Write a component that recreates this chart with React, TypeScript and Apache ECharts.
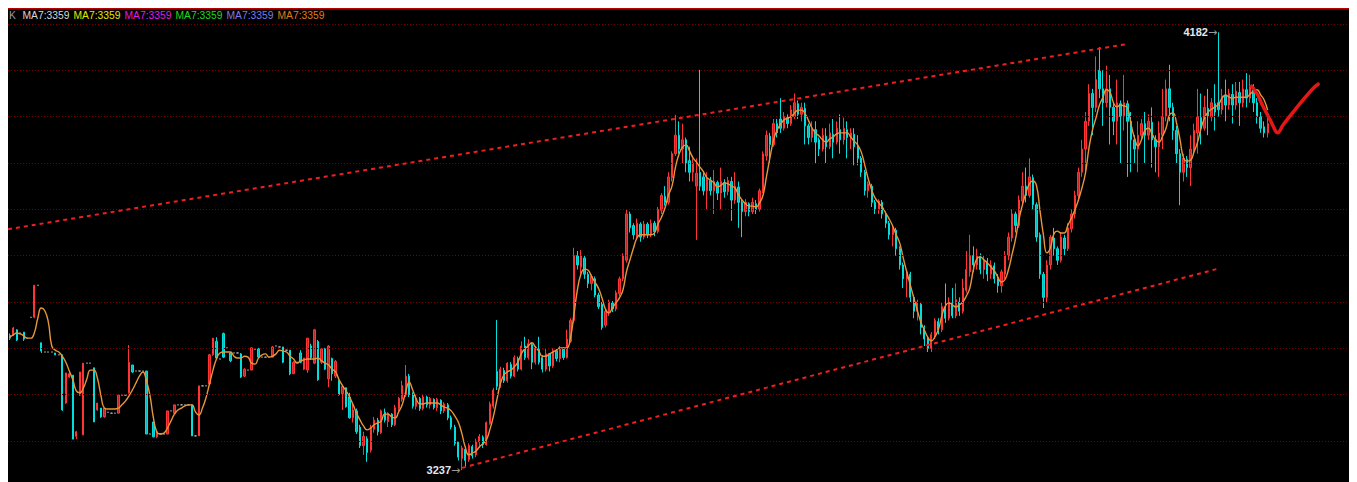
import React, { useEffect, useRef } from "react";
import * as echarts from "echarts";

// OHLC candles: [open, close, low, high]
const candles: number[][] = [
  [3528,3522,3518,3532],[3529,3544,3527,3546],[3540,3518,3516,3541],[3533,3533,3533,3533],[3535,3520,3516,3535],
  [3522,3522,3522,3522],[3567,3567,3567,3567],[3567,3636,3565,3637],[3636,3636,3636,3636],[3512,3494,3490,3512],
  [3492,3492,3492,3492],[3492,3492,3492,3492],[3492,3492,3492,3492],[3490,3486,3485,3490],[3486,3486,3486,3486],
  [3486,3367,3365,3486],[3382,3447,3380,3447],[3438,3445,3436,3447],[3442,3304,3304,3442],[3310,3320,3304,3322],
  [3399,3449,3397,3449],[3313,3468,3313,3468],[3468,3468,3468,3468],[3468,3468,3468,3468],[3458,3341,3341,3458],
  [3367,3382,3365,3382],[3371,3352,3350,3371],[3352,3371,3350,3371],[3362,3362,3362,3362],[3360,3360,3360,3360],
  [3360,3360,3360,3360],[3360,3399,3360,3399],[3399,3399,3399,3399],[3399,3399,3399,3399],[3404,3470,3402,3507],
  [3464,3449,3447,3464],[3451,3451,3451,3451],[3451,3451,3451,3451],[3451,3451,3451,3451],[3451,3315,3315,3451],
  [3315,3315,3315,3315],[3341,3309,3308,3341],[3309,3320,3306,3322],[3315,3315,3315,3315],[3315,3315,3315,3315],
  [3315,3365,3315,3365],[3365,3365,3365,3365],[3360,3378,3360,3378],[3378,3378,3378,3378],[3378,3378,3378,3378],
  [3378,3378,3378,3378],[3378,3378,3378,3378],[3378,3311,3311,3378],[3311,3311,3311,3311],[3311,3419,3311,3419],
  [3419,3419,3419,3419],[3419,3419,3419,3419],[3423,3486,3421,3488],[3486,3522,3484,3522],[3515,3479,3477,3524],
  [3477,3477,3477,3477],[3532,3481,3479,3534],[3501,3501,3501,3501],[3490,3473,3470,3492],[3490,3490,3490,3490],
  [3490,3490,3490,3490],[3488,3438,3436,3490],[3440,3455,3438,3457],[3453,3453,3453,3453],[3453,3501,3453,3503],
  [3498,3498,3498,3498],[3499,3481,3477,3501],[3481,3481,3481,3481],[3481,3481,3481,3481],[3481,3481,3481,3481],
  [3481,3503,3481,3505],[3505,3505,3505,3505],[3503,3503,3503,3503],[3503,3470,3468,3503],[3496,3496,3496,3496],
  [3496,3445,3442,3496],[3445,3470,3445,3472],[3470,3470,3470,3470],[3490,3470,3468,3496],[3455,3479,3453,3479],
  [3453,3522,3447,3522],[3505,3480,3475,3510],[3468,3540,3466,3542],[3515,3432,3430,3518],[3470,3499,3466,3499],
  [3499,3455,3453,3501],[3434,3505,3416,3507],[3478,3445,3430,3480],[3440,3472,3436,3475],[3430,3400,3398,3432],
  [3402,3418,3367,3421],[3415,3374,3372,3415],[3395,3350,3348,3404],[3350,3367,3340,3380],[3365,3320,3315,3370],
  [3330,3290,3285,3335],[3290,3310,3270,3320],[3305,3275,3255,3310],[3280,3330,3275,3335],[3325,3345,3318,3352],
  [3345,3320,3312,3350],[3318,3365,3315,3368],[3362,3345,3340,3370],[3342,3360,3330,3362],[3358,3335,3330,3360],
  [3335,3372,3332,3378],[3370,3392,3365,3395],[3390,3420,3385,3430],[3400,3440,3395,3464],[3440,3400,3395,3445],
  [3400,3375,3370,3405],[3375,3392,3368,3400],[3392,3370,3365,3395],[3370,3395,3366,3400],[3395,3378,3372,3398],
  [3378,3392,3370,3395],[3390,3372,3368,3392],[3372,3390,3365,3393],[3388,3365,3358,3390],[3365,3380,3360,3384],
  [3378,3350,3345,3382],[3350,3330,3325,3355],[3330,3295,3290,3335],[3298,3265,3258,3300],[3262,3285,3237,3290],
  [3282,3258,3245,3288],[3260,3290,3255,3295],[3288,3268,3262,3292],[3270,3300,3265,3305],[3298,3310,3285,3315],
  [3308,3292,3285,3312],[3292,3340,3290,3342],[3338,3380,3335,3385],[3375,3410,3370,3415],[3450,3418,3410,3561],
  [3420,3455,3415,3460],[3452,3430,3425,3458],[3430,3468,3426,3470],[3465,3440,3435,3470],[3440,3480,3438,3485],
  [3478,3455,3450,3482],[3455,3505,3452,3515],[3505,3480,3475,3525],[3480,3510,3476,3520],[3508,3470,3455,3512],
  [3470,3500,3465,3505],[3498,3470,3465,3525],[3480,3455,3448,3485],[3455,3488,3450,3500],[3488,3462,3450,3490],
  [3462,3495,3458,3500],[3495,3478,3472,3498],[3478,3500,3470,3505],[3498,3480,3475,3502],[3480,3520,3478,3540],
  [3515,3560,3512,3565],[3560,3700,3555,3717],[3700,3680,3670,3710],[3675,3700,3660,3712],[3695,3660,3650,3700],
  [3660,3640,3630,3665],[3640,3655,3625,3660],[3650,3615,3610,3655],[3615,3590,3585,3620],[3595,3545,3540,3600],
  [3550,3580,3545,3585],[3578,3600,3570,3605],[3598,3585,3578,3602],[3585,3620,3580,3625],[3618,3650,3612,3655],
  [3650,3700,3645,3705],[3690,3790,3685,3799],[3790,3760,3750,3795],[3765,3745,3735,3770],[3740,3770,3735,3780],
  [3768,3740,3730,3772],[3740,3768,3735,3775],[3768,3745,3738,3772],[3745,3770,3740,3778],[3770,3752,3742,3775],
  [3752,3800,3748,3805],[3798,3830,3790,3835],[3828,3815,3808,3850],[3815,3870,3810,3880],[3868,3920,3860,3925],
  [3920,3960,3915,4004],[3960,3930,3920,3990],[3930,3950,3900,3985],[3950,3900,3880,3955],[3905,3880,3860,3935],
  [3880,3900,3860,3910],[3850,3878,3734,3910],[3880,3850,3840,4101],[3870,3840,3830,3880],[3840,3865,3800,3880],
  [3862,3840,3830,3870],[3840,3860,3790,3885],[3858,3835,3820,3862],[3835,3860,3800,3890],[3858,3838,3825,3865],
  [3838,3862,3830,3870],[3860,3820,3775,3870],[3820,3850,3812,3880],[3848,3815,3760,3860],[3815,3795,3740,3820],
  [3795,3815,3785,3822],[3812,3795,3785,3815],[3795,3815,3790,3825],[3812,3800,3790,3820],[3800,3840,3795,3845],
  [3840,3920,3835,3925],[3915,3960,3905,3970],[3958,3940,3900,3965],[3940,3985,3935,3995],[3985,3965,3955,3995],
  [3995,3975,3965,4040],[3975,4000,3970,4010],[3998,3985,3975,4005],[3985,4015,3980,4025],[4000,4030,3995,4050],
  [4028,4005,3995,4035],[4005,4020,3990,4030],[4018,3980,3940,4030],[3980,3955,3940,3985],[3955,3975,3945,3990],
  [3972,3945,3900,3990],[3950,3930,3915,3955],[3930,3960,3925,3975],[3958,3935,3900,3975],[3935,3965,3930,3985],
  [3962,3945,3910,3995],[3945,3975,3940,3990],[3972,3950,3920,4005],[3950,3975,3940,3998],[3972,3955,3910,3990],
  [3955,3965,3930,3975],[3962,3935,3895,3975],[3935,3910,3895,3960],[3910,3880,3870,3915],[3880,3840,3830,3885],
  [3840,3855,3825,3860],[3850,3815,3805,3855],[3815,3800,3790,3820],[3800,3818,3790,3822],[3815,3790,3780,3820],
  [3790,3770,3760,3795],[3770,3745,3735,3775],[3745,3760,3720,3765],[3755,3715,3700,3760],[3715,3680,3670,3720],
  [3680,3650,3630,3685],[3650,3665,3610,3670],[3660,3610,3600,3665],[3610,3580,3565,3615],[3580,3600,3560,3605],
  [3595,3545,3530,3600],[3545,3520,3505,3550],[3520,3500,3492,3525],[3500,3530,3492,3535],[3530,3560,3520,3565],
  [3558,3540,3530,3565],[3540,3590,3535,3600],[3585,3565,3555,3640],[3565,3600,3560,3610],[3598,3570,3565,3630],
  [3570,3605,3565,3640],[3600,3580,3570,3610],[3580,3630,3575,3650],[3625,3670,3620,3710],[3665,3700,3655,3745],
  [3700,3680,3665,3720],[3680,3700,3670,3715],[3698,3670,3660,3705],[3670,3690,3650,3700],[3688,3660,3645,3695],
  [3660,3680,3650,3690],[3678,3650,3640,3685],[3650,3635,3620,3660],[3635,3665,3620,3670],[3660,3700,3650,3710],
  [3700,3740,3690,3750],[3738,3790,3730,3800],[3790,3765,3750,3795],[3765,3820,3760,3830],[3818,3850,3810,3880],
  [3850,3830,3815,3890],[3830,3870,3825,3910],[3868,3810,3800,3875],[3810,3740,3730,3815],[3745,3660,3650,3750],
  [3660,3610,3587,3665],[3610,3680,3600,3690],[3680,3740,3670,3745],[3738,3715,3700,3760],[3715,3690,3680,3720],
  [3690,3740,3685,3750],[3738,3715,3700,3745],[3715,3760,3710,3770],[3758,3790,3750,3800],[3790,3830,3780,3840],
  [3830,3880,3820,3890],[3880,3930,3870,3950],[3930,3990,3880,4010],[3990,4050,3980,4070],[4050,4020,3960,4060],
  [4020,4080,4010,4130],[4100,4060,4040,4150],[4060,4030,3980,4100],[4030,4060,4020,4110],[4060,4020,3940,4090],
  [4020,3990,3960,4030],[3990,4030,3940,4080],[4028,4000,3900,4035],[4000,4030,3970,4090],[4028,3990,3870,4035],
  [3990,3950,3880,4010],[3950,3930,3900,3960],[3930,3960,3880,3990],[3960,3985,3950,3995],[3985,3960,3900,4010],
  [3960,3990,3950,4005],[3988,3950,3890,4020],[3950,3935,3880,3960],[3935,3965,3870,3990],[3960,4000,3930,4060],
  [4000,4060,3990,4080],[4060,4020,3990,4112],[4020,3970,3950,4030],[3970,3920,3900,3980],[3920,3880,3809,3930],
  [3880,3910,3860,3920],[3908,3890,3870,3915],[3890,3930,3850,3960],[3928,3970,3920,3985],[3965,4000,3920,4060],
  [3998,3975,3940,4050],[3975,4020,3970,4045],[4018,4000,3960,4060],[4000,4030,3990,4040],[4028,4010,3970,4070],
  [4030,4015,4000,4182],[4015,4045,4005,4060],[4045,4025,3990,4080],[4025,4050,4015,4060],[4048,4025,3985,4070],
  [4025,4055,4015,4075],[4052,4030,3980,4075],[4030,4060,4020,4080],[4058,4040,4020,4094],[4040,4065,4030,4090],
  [4062,4030,4010,4070],[4030,4000,3985,4040],[4000,3975,3965,4010],[3978,3965,3955,3990],[3965,3985,3955,4000],
];

// MA7 line, one value per candle
const ma7: number[] = [
  3524,3529,3533,3531,3527,3522,3522,3533,3565,3587,
  3581,3557,3505,3496,3492,3483,3470,3451,3432,3408,
  3404,3414,3434,3453,3453,3436,3399,3371,3369,3369,
  3369,3371,3378,3386,3397,3410,3425,3440,3449,3430,
  3399,3350,3319,3315,3317,3328,3343,3358,3367,3371,
  3376,3378,3378,3363,3356,3371,3393,3423,3453,3477,
  3490,3492,3492,3492,3483,3479,3479,3483,3481,3468,
  3466,3479,3486,3488,3481,3483,3488,3496,3494,3492,
  3483,3477,3468,3473,3475,3477,3477,3477,3479,3473,
  3468,3464,3455,3449,3432,3419,3408,3395,3378,3360,
  3345,3332,3324,3328,3335,3339,3343,3358,3358,3352,
  3350,3363,3378,3406,3427,3410,3391,3380,3380,3382,
  3382,3382,3382,3378,3373,3371,3365,3354,3341,3317,
  3287,3270,3274,3278,3287,3294,3302,3324,3352,3388,
  3423,3442,3449,3453,3460,3470,3488,3499,3505,3512,
  3503,3494,3483,3483,3488,3492,3496,3501,3501,3501,
  3522,3572,3626,3660,3671,3669,3656,3643,3630,3609,
  3585,3576,3587,3598,3609,3626,3665,3691,3716,3738,
  3745,3745,3745,3745,3749,3768,3783,3803,3831,3850,
  3891,3919,3934,3939,3926,3911,3902,3891,3881,3868,
  3863,3857,3848,3852,3857,3855,3850,3846,3831,3820,
  3812,3807,3807,3805,3814,3831,3872,3913,3950,3971,
  3984,3993,3997,4000,4008,4014,4014,4006,3991,3975,
  3965,3958,3950,3945,3952,3956,3963,3965,3965,3965,
  3956,3947,3939,3924,3896,3866,3842,3824,3814,3805,
  3792,3779,3764,3745,3727,3695,3665,3637,3609,3583,
  3557,3540,3524,3516,3524,3540,3570,3591,3598,3594,
  3589,3594,3600,3613,3630,3669,3693,3697,3691,3684,
  3676,3667,3654,3643,3648,3669,3701,3734,3777,3809,
  3835,3855,3861,3852,3799,3745,3706,3717,3747,3753,
  3749,3749,3766,3781,3799,3820,3846,3878,3932,3971,
  3997,4025,4042,4058,4053,4030,4021,4025,4023,4019,
  3984,3954,3937,3950,3971,3975,3963,3950,3945,3958,
  3975,4004,4008,3986,3950,3911,3904,3906,3924,3945,
  3975,3997,4010,4016,4021,4027,4040,4047,4042,4040,
  4042,4042,4042,4042,4049,4055,4058,4047,4036,4014,
];

const gridLevels: number[] = [3300, 3400, 3500, 3600, 3700, 3800, 3900, 4000, 4100, 4200];

// trend channel lines: [slot position, price]
const upperTrend: number[][] = [[-0.5, 3757], [319.1, 4157]];
const lowerTrend: number[][] = [[129.1, 3242], [345.4, 3673]];

// hand-drawn check stroke: [slot position, price]
const checkStroke: number[][] = [
  [354.4, 4066], [355.9, 4050], [357.7, 4022], [359.7, 3993], [361.4, 3967], [361.9, 3965],
  [363.4, 3982], [366.4, 4011], [369.1, 4036], [372.1, 4062], [373.4, 4070],
];

const peakIndex = 345;
const peakValue = 4182;
const troughIndex = 129;
const troughValue = 3237;

const legendItems = [
  { text: "K", color: "#9a9a9a" },
  { text: "MA7:3359", color: "#d6d6d6" },
  { text: "MA7:3359", color: "#e6e600" },
  { text: "MA7:3359", color: "#e21de2" },
  { text: "MA7:3359", color: "#1fd81f" },
  { text: "MA7:3359", color: "#7a7ae8" },
  { text: "MA7:3359", color: "#e07a1a" },
];

const totalSlots = 385;
const categories: string[] = Array.from({ length: totalSlots }, (_, i) => String(i));

const W = 1349;
const H = 474;
const Y_MIN = 3211.5;
const Y_MAX = 4234.5;

export default function App() {
  const ref = useRef<HTMLDivElement>(null);

  useEffect(() => {
    if (!ref.current) return;
    const chart = echarts.init(ref.current, undefined, { renderer: "svg" });

    const legendGraphics: any[] = legendItems.map((it, k) => ({
      type: "text",
      left: k === 0 ? 1 : 14.5 + (k - 1) * 51,
      top: 2,
      silent: true,
      style: {
        text: it.text,
        fill: it.color,
        font: '10.3px "Liberation Sans", Arial, sans-serif',
      },
    }));

    const option: any = {
      animation: false,
      backgroundColor: "#000000",
      grid: { left: 0, right: 0, top: 0, bottom: 0, containLabel: false },
      xAxis: [
        {
          type: "category",
          data: categories,
          boundaryGap: true,
          show: false,
        },
        {
          type: "value",
          min: -0.5,
          max: totalSlots - 0.5,
          show: false,
        },
      ],
      yAxis: {
        type: "value",
        min: Y_MIN,
        max: Y_MAX,
        show: false,
        splitLine: { show: false },
      },
      graphic: [
        {
          type: "rect",
          left: 0,
          top: 0,
          silent: true,
          shape: { width: W, height: 1.5 },
          style: { fill: "#b80000" },
        },
        ...legendGraphics,
      ],
      series: [
        {
          type: "line",
          name: "grid",
          data: [],
          silent: true,
          z: 1,
          markLine: {
            silent: true,
            symbol: ["none", "none"],
            label: { show: false },
            lineStyle: { color: "#7a0000", type: [1, 2], width: 1, opacity: 1 },
            emphasis: { disabled: true },
            data: gridLevels.map((v) => ({ yAxis: v })),
          },
        },
        {
          type: "candlestick",
          name: "K",
          data: candles,
          barWidth: 1.8,
          z: 3,
          itemStyle: {
            color: "#c42424",
            color0: "#00bcbc",
            borderColor: "#ff3434",
            borderColor0: "#00dede",
            borderColorDoji: "#b4b4b4",
            borderWidth: 1,
          },
          markPoint: {
            silent: true,
            symbol: "circle",
            symbolSize: 1,
            itemStyle: { color: "rgba(0,0,0,0)" },
            data: [
              {
                coord: [categories[peakIndex], peakValue],
                label: {
                  show: true,
                  position: "left",
                  distance: 1,
                  formatter: "{v|" + peakValue + "}{a|→}",
                  rich: {
                    v: { color: "#e4e8f0", fontSize: 11, fontWeight: "bold", fontFamily: "Liberation Sans, Arial, sans-serif" },
                    a: { color: "#9a9a9a", fontSize: 11, fontFamily: "DejaVu Sans, sans-serif" },
                  },
                },
              },
              {
                coord: [categories[troughIndex], troughValue],
                label: {
                  show: true,
                  position: "left",
                  distance: 1,
                  formatter: "{v|" + troughValue + "}{a|→}",
                  rich: {
                    v: { color: "#e4e8f0", fontSize: 11, fontWeight: "bold", fontFamily: "Liberation Sans, Arial, sans-serif" },
                    a: { color: "#9a9a9a", fontSize: 11, fontFamily: "DejaVu Sans, sans-serif" },
                  },
                },
              },
            ],
          },
        },
        {
          type: "line",
          name: "MA7",
          data: ma7,
          smooth: true,
          showSymbol: false,
          silent: true,
          z: 4,
          lineStyle: { color: "#e8963a", width: 1.4 },
        },
        {
          type: "line",
          name: "upper",
          xAxisIndex: 1,
          data: upperTrend,
          showSymbol: false,
          silent: true,
          z: 5,
          lineStyle: { color: "#f01e1e", width: 2, type: [4, 4] },
        },
        {
          type: "line",
          name: "lower",
          xAxisIndex: 1,
          data: lowerTrend,
          showSymbol: false,
          silent: true,
          z: 5,
          lineStyle: { color: "#f01e1e", width: 2, type: [4, 4] },
        },
        {
          type: "line",
          name: "check",
          xAxisIndex: 1,
          data: checkStroke,
          smooth: 0.3,
          showSymbol: false,
          silent: true,
          z: 6,
          lineStyle: { color: "#e41616", width: 3.5, cap: "round", join: "round" },
        },
      ],
    };

    chart.setOption(option);
    return () => chart.dispose();
  }, []);

  return <div ref={ref} style={{ width: W, height: H, background: "#000" }} />;
}
